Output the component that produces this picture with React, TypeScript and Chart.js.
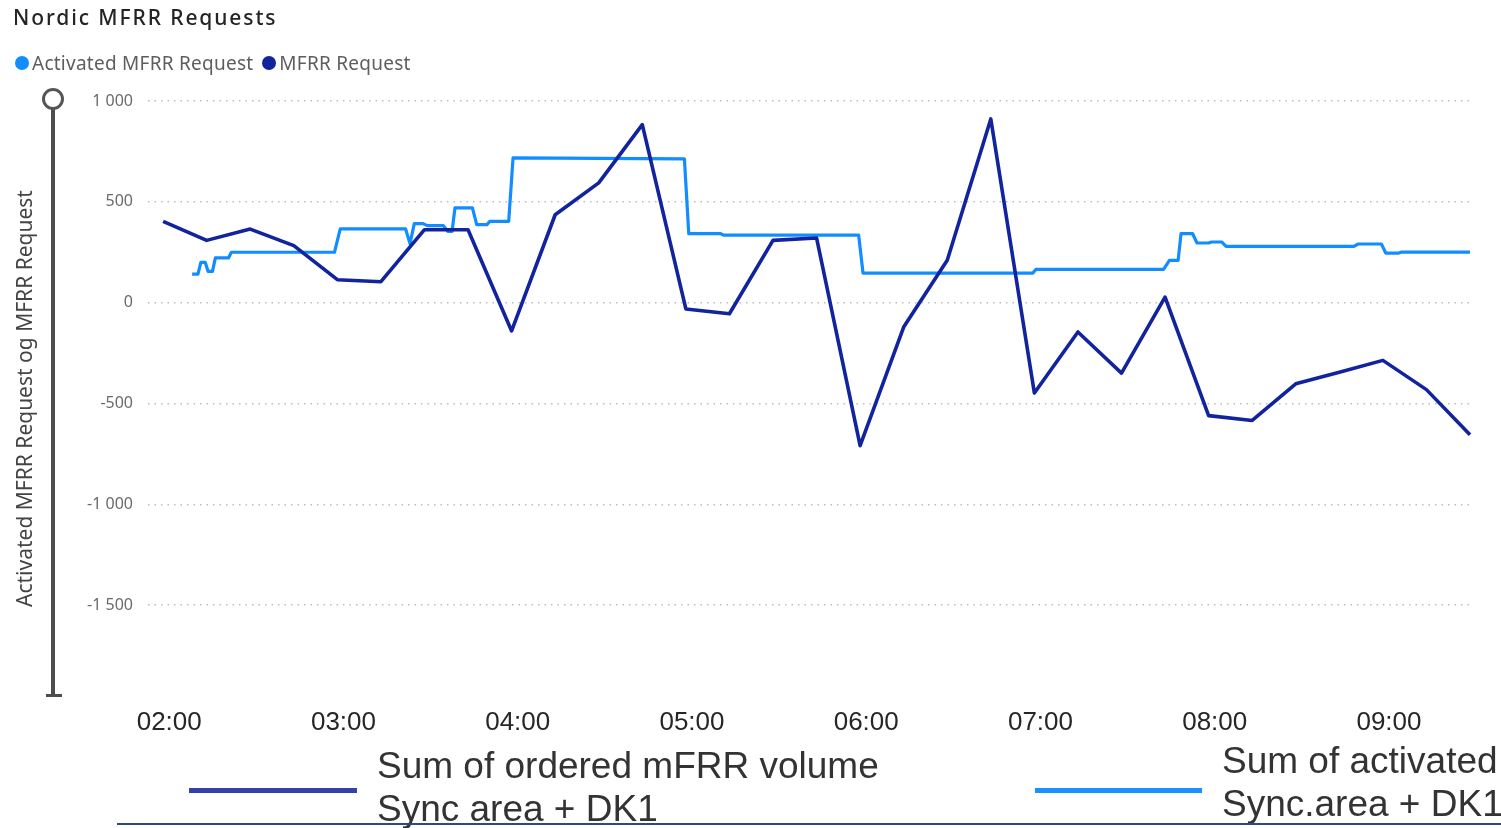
import React, { useEffect, useRef } from 'react';
import { Chart, registerables } from 'chart.js';

Chart.register(...registerables);

// Time in minutes after midnight
const mfrrTimes = [120, 135, 150, 165, 180, 195, 210, 225, 240, 255, 270, 285, 300, 315, 330, 345, 360, 375, 390, 405, 420, 435, 450, 465, 480, 495, 510, 525, 540, 555, 570];
const mfrrValues = [403, 309, 365, 283, 114, 104, 362, 362, -140, 436, 594, 883, -31, -55, 309, 321, -709, -121, 210, 911, -448, -145, -349, 28, -560, -584, -402, -345, -286, -431, -655];

const activatedTimes = [130, 132, 133, 134.5, 135.5, 137, 138, 142.5, 143.5, 179, 181, 203.5, 205, 206.5, 209.5, 211, 216.5, 218, 219.5, 220.5, 226.5, 228, 231.5, 232.5, 239, 240.5, 299.5, 301, 312, 313, 359.5, 361, 419.5, 420.5, 464.5, 466.5, 469.5, 470.5, 474.5, 476, 480, 481, 484.5, 486, 530, 531.5, 539.5, 541, 545.5, 546.5, 570];
const activatedValues = [142, 142, 200, 200, 155, 155, 222, 222, 250, 250, 366, 366, 293, 392, 392, 382, 382, 354, 354, 470, 470, 387, 387, 403, 403, 718, 713, 342, 342, 335, 335, 147, 147, 165, 165, 210, 210, 342, 342, 296, 296, 301, 301, 279, 279, 291, 291, 246, 246, 251, 251];

const xTicks = [120, 180, 240, 300, 360, 420, 480, 540];
const yTicks = [1000, 500, 0, -500, -1000, -1500];
const xMin = 114.8;
const xMax = 570;
// the pasted time labels sit about two minutes right of the plotted data
const labelShift = 2.1;
const yMin = -1950;
const yMax = 1000;

const chartTitle = 'Nordic MFRR Requests';
const seriesNames = ['Activated MFRR Request', 'MFRR Request'];
const yAxisTitle = 'Activated MFRR Request og MFRR Request';
const bottomLegend = [
  ['Sum of ordered mFRR volume', 'Sync area + DK1'],
  ['Sum of activated', 'Sync.area + DK1'],
];

const LIGHT = '#118DFF';
const DARK = '#12239E';
const UI_FONT = "'Segoe UI', 'Noto Sans', 'Open Sans', sans-serif";
const ARIAL = "Arial, 'Liberation Sans', sans-serif";

function fmtNum(v: number): string {
  const s = String(Math.abs(v)).replace(/\B(?=(\d{3})+(?!\d))/g, ' ');
  return (v < 0 ? '-' : '') + s;
}
function fmtTime(m: number): string {
  const h = Math.floor(m / 60);
  const mm = Math.round(m % 60);
  return String(h).padStart(2, '0') + ':' + String(mm).padStart(2, '0');
}

export default function App() {
  const canvasRef = useRef<HTMLCanvasElement | null>(null);

  useEffect(() => {
    const canvas = canvasRef.current;
    if (!canvas) return;
    const chart = new Chart(canvas, {
      type: 'line',
      data: {
        datasets: [
          {
            label: seriesNames[0],
            data: activatedTimes.map((t, i) => ({ x: t, y: activatedValues[i] })),
            borderColor: LIGHT,
            backgroundColor: LIGHT,
            borderWidth: 3.2,
            pointRadius: 0,
            tension: 0,
            order: 1,
            clip: 6,
            borderJoinStyle: 'round',
            xAxisID: 'x',
          },
          {
            label: seriesNames[1],
            data: mfrrTimes.map((t, i) => ({ x: t, y: mfrrValues[i] })),
            borderColor: DARK,
            backgroundColor: DARK,
            borderWidth: 3.6,
            pointRadius: 0,
            tension: 0,
            order: 0,
            clip: 6,
            borderJoinStyle: 'round',
            xAxisID: 'x',
          },
        ],
      },
      options: {
        responsive: false,
        animation: false,
        layout: { padding: { left: 13, top: 101, right: 31, bottom: 78 } },
        plugins: {
          legend: { display: false },
          title: { display: false },
          tooltip: { enabled: false },
        },
        scales: {
          x: {
            type: 'linear',
            display: false,
            min: xMin,
            max: xMax,
          },
          xLabels: {
            type: 'linear',
            position: 'bottom',
            min: xMin - labelShift,
            max: xMax - labelShift,
            border: { display: false },
            grid: { display: false, drawTicks: false },
            afterBuildTicks: (axis: any) => {
              axis.ticks = xTicks.map((v) => ({ value: v }));
            },
            ticks: {
              autoSkip: false,
              maxRotation: 0,
              padding: 11.4,
              color: '#262626',
              font: { family: ARIAL, size: 26 },
              callback: (v: any) => fmtTime(Number(v)),
            },
          },
          y: {
            type: 'linear',
            min: yMin,
            max: yMax,
            border: { display: false, dash: [1.5, 5] },
            afterFit: (axis: any) => {
              axis.width = 135;
            },
            afterBuildTicks: (axis: any) => {
              axis.ticks = yTicks.map((v) => ({ value: v }));
            },
            grid: {
              color: '#BDBDBD',
              lineWidth: 1.5,
              drawTicks: false,
            },
            ticks: {
              padding: 15,
              color: '#6B6B6B',
              font: { family: UI_FONT, size: 16 },
              callback: (v: any) => fmtNum(Number(v)),
            },
            title: {
              display: true,
              text: yAxisTitle,
              color: '#444444',
              padding: { top: 0, bottom: 0 },
              font: { family: UI_FONT, size: 21 },
            },
          },
        },
      },
    } as any);
    return () => chart.destroy();
  }, []);

  const dot = (color: string) => (
    <span
      style={{
        display: 'inline-block',
        width: 14,
        height: 14,
        borderRadius: 7,
        background: color,
        marginRight: 3,
        verticalAlign: 'middle',
        position: 'relative',
        top: -2,
      }}
    />
  );

  return (
    <div
      style={{
        position: 'fixed',
        left: 0,
        top: 0,
        width: 1501,
        height: 828,
        overflow: 'hidden',
        background: '#ffffff',
      }}
    >
      <canvas
        ref={canvasRef}
        width={1501}
        height={828}
        style={{ position: 'absolute', left: 0, top: 0, width: 1501, height: 828 }}
      />
      <div
        style={{
          position: 'absolute',
          left: 13,
          top: 3,
          fontFamily: UI_FONT,
          fontSize: 21,
          fontWeight: 500,
          letterSpacing: 1.9,
          color: '#252423',
          whiteSpace: 'nowrap',
        }}
      >
        {chartTitle}
      </div>
      <div
        style={{
          position: 'absolute',
          left: 15,
          top: 48,
          fontFamily: UI_FONT,
          fontSize: 19,
          letterSpacing: 0.25,
          color: '#605E5C',
          whiteSpace: 'nowrap',
          lineHeight: '30px',
        }}
      >
        {dot(LIGHT)}
        <span style={{ marginRight: 9 }}>{seriesNames[0]}</span>
        {dot(DARK)}
        <span>{seriesNames[1]}</span>
      </div>

      {/* zoom slider */}
      <div style={{ position: 'absolute', left: 51, top: 108, width: 4, height: 588, background: '#4D4D4D' }} />
      <div style={{ position: 'absolute', left: 46, top: 694, width: 16, height: 3, background: '#4D4D4D' }} />
      <div
        style={{
          position: 'absolute',
          left: 42,
          top: 88,
          width: 16,
          height: 16,
          borderRadius: 11,
          border: '3px solid #555555',
          background: '#ffffff',
        }}
      />

      {/* bottom legend */}
      <div style={{ position: 'absolute', left: 189, top: 788, width: 168, height: 5, background: '#3540A8' }} />
      <div
        style={{
          position: 'absolute',
          left: 377,
          top: 744,
          fontFamily: ARIAL,
          fontSize: 37,
          lineHeight: '43px',
          color: '#333333',
          whiteSpace: 'nowrap',
        }}
      >
        <div>{bottomLegend[0][0]}</div>
        <div>{bottomLegend[0][1]}</div>
      </div>
      <div style={{ position: 'absolute', left: 1035, top: 788, width: 167, height: 5, background: '#1E8FFF' }} />
      <div
        style={{
          position: 'absolute',
          left: 1222,
          top: 739,
          fontFamily: ARIAL,
          fontSize: 37,
          lineHeight: '43px',
          color: '#333333',
          whiteSpace: 'nowrap',
        }}
      >
        <div>{bottomLegend[1][0]}</div>
        <div>{bottomLegend[1][1]}</div>
      </div>
      <div style={{ position: 'absolute', left: 117, top: 823, width: 1384, height: 2, background: '#2F4B7C' }} />
    </div>
  );
}
